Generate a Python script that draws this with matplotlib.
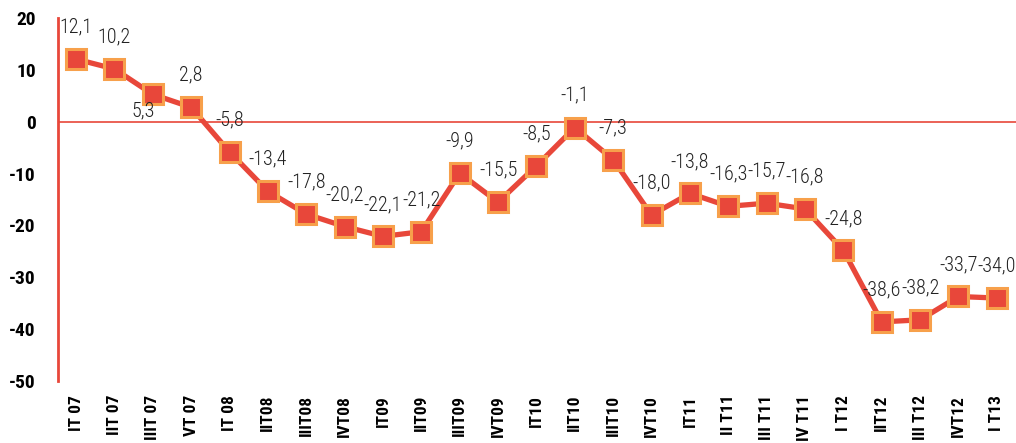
import matplotlib
matplotlib.use("Agg")
import matplotlib.pyplot as plt

# -------------------- DATA --------------------
quarters = ["IT 07", "IIT 07", "IIIT 07", "VT 07", "IT 08", "IIT08", "IIIT08", "IVT08",
            "IT09", "IIT09", "IIIT09", "IVT09", "IT10", "IIT10", "IIIT10", "IVT10",
            "IT11", "II T11", "III T11", "IV T11", "I T12", "IIT12", "III T12", "IVT12", "I T13"]
values = [12.1, 10.2, 5.3, 2.8, -5.8, -13.4, -17.8, -20.2, -22.1, -21.2, -9.9, -15.5,
          -8.5, -1.1, -7.3, -18.0, -13.8, -16.3, -15.7, -16.8, -24.8, -38.6, -38.2,
          -33.7, -34.0]
yticks = [20, 10, 0, -10, -20, -30, -40, -50]
# ----------------------------------------------

RED = "#E8473A"
ORANGE = "#F7A04B"
# condensed faces first, plain fallbacks after
FONT = ["Roboto Condensed", "Archivo Narrow", "Liberation Sans", "DejaVu Sans"]
plt.rcParams["font.family"] = FONT

fig = plt.figure(figsize=(10.16, 4.43), dpi=100)
ax = fig.add_axes([0.0571, 0.140, 0.9429, 0.819])

x = list(range(len(values)))
ax.plot(x, values, color=RED, lw=3.8, marker="s", ms=14,
        mfc=RED, mec=ORANGE, mew=2.2, zorder=3)
ax.axhline(0, color=RED, lw=1.2, zorder=1)

# data labels sit above the point, 5,3 is the odd one below-left
for i, v in enumerate(values):
    txt = f"{v:.1f}".replace(".", ",")
    off = (-7, -12) if i == 2 else (0, 23)
    ax.annotate(txt, (i, v), xytext=off, textcoords="offset points",
                ha="center", va="center", fontsize=14.5, fontweight="light",
                color="#222222")

ax.set_xlim(-0.47, 24.5)
ax.set_ylim(-50, 20)
ax.set_yticks(yticks)
ax.set_yticklabels([str(t) for t in yticks], fontsize=14, fontweight="bold")
ax.set_xticks(x)
ax.set_xticklabels(quarters, rotation=90, fontsize=12.5, fontweight="bold")

for s in ["top", "right", "bottom"]:
    ax.spines[s].set_visible(False)
ax.spines["left"].set_color(RED)
ax.spines["left"].set_linewidth(2)
ax.tick_params(axis="y", length=0, pad=16)
ax.tick_params(axis="x", length=0, pad=10)

fig.savefig("out.png", dpi=100)
